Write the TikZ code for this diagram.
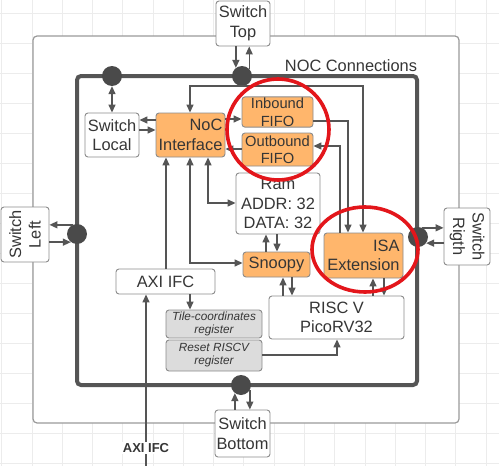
\documentclass[tikz,border=0pt]{standalone}
\usepackage{fontspec}
\setmainfont{Liberation Sans}
\usetikzlibrary{arrows.meta}
\definecolor{txt}{HTML}{363636}
\definecolor{ln}{HTML}{555555}
\definecolor{bx}{HTML}{8C8C8C}
\definecolor{org}{RGB}{255,182,108}
\definecolor{reg}{HTML}{DCDCDC}
\definecolor{redc}{HTML}{E3161B}
\definecolor{gridc}{HTML}{ECECEC}
\definecolor{dotc}{HTML}{4A4A4A}
\definecolor{outc}{HTML}{9A9A9A}
\begin{document}
\begin{tikzpicture}[x=1pt,y=-1pt,>={Triangle[length=8pt,width=7pt]},
  box/.style={draw=bx,line width=0.9pt,rounded corners=3pt,fill=white,text=txt,align=center,inner sep=1pt,font=\fontsize{16.4}{19.5}\selectfont},
  obox/.style={box,fill=org},
  fbox/.style={obox,font=\fontsize{14.7}{17.5}\selectfont},
  rbox/.style={box,fill=reg,font=\fontsize{11.8}{13}\selectfont\itshape},
  conn/.style={draw=ln,line width=1.4pt},
  dot/.style={circle,fill=dotc,minimum size=20pt,inner sep=0pt},
  ring/.style={draw=redc,line width=3.6pt},
  gridline/.style={draw=gridc,line width=0.8pt}]
\useasboundingbox (0,0) rectangle (499,466);
\fill[white] (0,0) rectangle (499,466);
\foreach \k in {0,...,16} \draw[gridline] ({1.7+30.27*\k},0) -- ({1.7+30.27*\k},466);
\foreach \k in {0,...,15} \draw[gridline] (0,{13+30*\k}) -- (499,{13+30*\k});
% outer frame
\draw[draw=outc,line width=1.2pt,fill=white,rounded corners=4pt] (33,36) rectangle (459,423);
% bus
\draw[draw=ln,line width=4pt,rounded corners=4pt] (77,76) rectangle (417,385);
\node[text=txt,font=\fontsize{16.4}{19.5}\selectfont] (noclbl) at (351,66) {NOC Connections};
% dots
\node[dot] (dtl) at (112,76) {};
\node[dot] (dtop) at (242,76) {};
\node[dot] (dleft) at (77,234) {};
\node[dot] (dright) at (418,237) {};
\node[dot] (dbot) at (241,385) {};
% boxes
\node[box,minimum width=54pt,minimum height=45pt] (stop) at (243,23.5) {Switch\\Top};
\node[box,minimum width=54pt,minimum height=44pt] (slocal) at (112,135) {Switch\\Local};
\node[obox,align=right,minimum width=69pt,minimum height=44pt] (noc) at (190.5,135) {NoC\\Interface};
\node[fbox,minimum width=71pt,minimum height=30pt] (inb) at (277.5,112) {Inbound\\FIFO};
\node[fbox,minimum width=71pt,minimum height=33pt] (outb) at (277.5,149.5) {Outbound\\FIFO};
\node[box,minimum width=84pt,minimum height=61pt] (ram) at (278,203.5) {Ram\\ADDR: 32\\DATA: 32};
\node[obox,minimum width=67pt,minimum height=25pt] (snoopy) at (276.5,264.5) {Snoopy};
\node[obox,align=right,minimum width=79pt,minimum height=45pt] (isa) at (363.5,255.5) {ISA\\Extension};
\node[box,minimum width=135pt,minimum height=43pt] (risc) at (336.5,317.5) {RISC V\\PicoRV32};
\node[box,minimum width=99pt,minimum height=25pt] (axi) at (165.5,281.5) {AXI IFC};
\node[rbox,minimum width=96pt,minimum height=28pt] (tile) at (214,324) {Tile-coordinates\\register};
\node[rbox,minimum width=96pt,minimum height=31pt] (reset) at (214,355.5) {Reset RISCV\\register};
\node[box,minimum width=55pt,minimum height=47pt] (sbot) at (242.5,433.5) {Switch\\Bottom};
\node[box,rotate=90,minimum width=55pt,minimum height=48pt] (sleft) at (25,234.5) {Switch\\Left};
\node[box,rotate=-90,minimum width=57pt,minimum height=46pt] (sright) at (467,236.5) {Switch\\Rigth};
% switch connections
\draw[conn,->] (stop.south -| dtop.127) -- (dtop.127);
\draw[conn,->] (dtop.45) -- (stop.south -| dtop.45);
\draw[conn,->] (sbot.north -| dbot.-127) -- (dbot.-127);
\draw[conn,->] (dbot.-30) -- (sbot.north -| dbot.-30);
\draw[conn,->] (dleft.116) -- (sleft.south |- dleft.116);
\draw[conn,->] (sleft.south |- dleft.-127) -- (dleft.-127);
\draw[conn,->] (dright.64) -- (sright.south |- dright.64);
\draw[conn,->] (sright.south |- dright.-37) -- (dright.-37);
\draw[conn,<->] (dtl.south) -- (slocal.north);
\draw[conn,->] (noc.west |- 0,120) -- (slocal.east |- 0,120);
\draw[conn,->] (slocal.east |- 0,130) -- (noc.west |- 0,130);
% internal connections
\draw[conn,->] (noc.east |- 0,119) -- (inb.west |- 0,119);
\draw[conn,->] (outb.west |- 0,149) -- (noc.east |- 0,149);
\draw[conn,->] (inb.east |- 0,121) -- (348,121) -- (348,0 |- isa.north);
\draw[conn,->] (340,0 |- isa.north) -- (340,146) -- (outb.east |- 0,146);
\draw[conn,<->] (190,0 |- noc.north) -- (190,86) -- (363,86) -- (363,0 |- isa.north);
\draw[conn,<->] (208,0 |- noc.south) -- (208,203) -- (ram.west |- 0,203);
\draw[conn,<->] (190,0 |- noc.south) -- (190,263) -- (snoopy.west |- 0,263);
\draw[conn,->] (166,0 |- axi.north) -- (166,0 |- noc.south);
\draw[conn,->] (266,0 |- snoopy.north) -- (266,0 |- ram.south);
\draw[conn,->] (277,0 |- ram.south) -- (277,0 |- snoopy.north);
\draw[conn,->] (283,0 |- risc.north) -- (283,0 |- snoopy.south);
\draw[conn,->] (292,0 |- snoopy.south) -- (292,0 |- risc.north);
\draw[conn,->] (373,0 |- risc.north) -- (373,0 |- isa.south);
\draw[conn,->] (384,0 |- isa.south) -- (384,0 |- risc.north);
\draw[conn,->] (190,0 |- axi.south) -- (190,0 |- tile.north);
\draw[conn,->] (reset.east |- 0,355) -- (337,355) -- (337,0 |- risc.south);
\coordinate (axiext) at (146,466);
\draw[conn,->] (axiext) -- (146,0 |- axi.south);
\node[fill=white,text=txt,inner sep=1.5pt,font=\bfseries\fontsize{13}{15}\selectfont] (axilbl) at (146,448) {AXI IFC};
% red rings
\draw[ring] (278,129.5) ellipse [x radius=51pt,y radius=50.5pt];
\draw[ring] (365,249.5) ellipse [x radius=53pt,y radius=42.5pt];
\end{tikzpicture}
\end{document}
